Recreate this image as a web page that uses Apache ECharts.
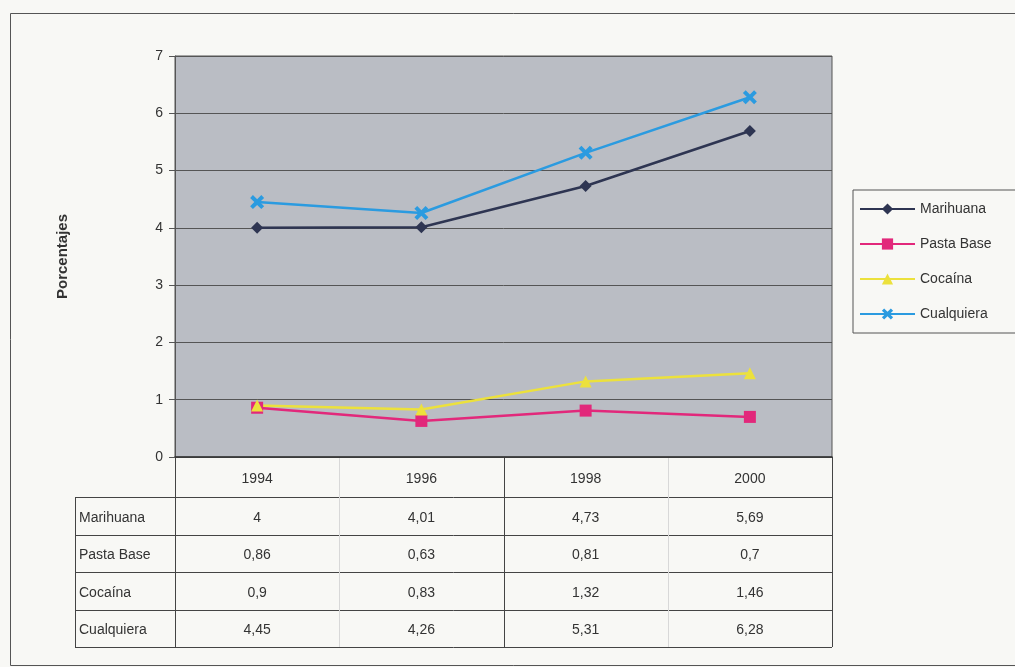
<!DOCTYPE html>
<html>
<head>
<meta charset="utf-8">
<title>Porcentajes 1994-2000</title>
<script src="https://cdn.jsdelivr.net/npm/echarts@6/dist/echarts.min.js"></script>
<style>
  html, body { margin: 0; padding: 0; background: #f8f8f5; }
  #chart { width: 1015px; height: 667px; }
</style>
</head>
<body>
<div id="chart"></div>
<script>
// datos de la tabla
const years = ['1994', '1996', '1998', '2000']
const seriesNames = ['Marihuana', 'Pasta Base', 'Cocaína', 'Cualquiera']
const marihuana = [4, 4.01, 4.73, 5.69]
const pastaBase = [0.86, 0.63, 0.81, 0.7]
const cocaina = [0.9, 0.83, 1.32, 1.46]
const cualquiera = [4.45, 4.26, 5.31, 6.28]
const allValues = [marihuana, pastaBase, cocaina, cualquiera]

const colors = ['#2e3552', '#e2287b', '#ece13c', '#2b9be0']
const symbols = [
  'diamond',
  'rect',
  'triangle',
  'path://M0,2L2,0L5,3L8,0L10,2L7,5L10,8L8,10L5,7L2,10L0,8L3,5Z'
]

// layout de la grilla y tabla
const gridLeft = 175
const gridTop = 56
const gridRight = 832
const gridBottom = 457
const headerH = 40
const rowH = 37.5
const tableLeft = 75
const tableBottom = gridBottom + headerH + rowH * seriesNames.length

const fmt = v => String(v).replace('.', ',')

const chart = echarts.init(document.getElementById('chart'))

const lineColor = '#444'
const graphics = []
// marco exterior
graphics.push({
  type: 'rect',
  shape: { x: 10.5, y: 13.5, width: 1020, height: 652 },
  style: { fill: null, stroke: '#555', lineWidth: 1 },
  silent: true
})
// lineas horizontales de la tabla
for (let i = 0; i <= seriesNames.length; i++) {
  const y = Math.round(gridBottom + headerH + rowH * i) + 0.5
  graphics.push({
    type: 'line',
    shape: { x1: tableLeft, y1: y, x2: gridRight, y2: y },
    style: { stroke: lineColor, lineWidth: 1 },
    silent: true
  })
}
// lineas verticales de la tabla
const colW = (gridRight - gridLeft) / years.length
graphics.push({
  type: 'line',
  shape: { x1: tableLeft + 0.5, y1: gridBottom + headerH, x2: tableLeft + 0.5, y2: tableBottom },
  style: { stroke: lineColor, lineWidth: 1 },
  silent: true
})
for (let j = 0; j <= years.length; j++) {
  const x = Math.round(gridLeft + colW * j) + 0.5
  const strong = j === 0 || j === 2 || j === years.length
  graphics.push({
    type: 'line',
    shape: { x1: x, y1: gridBottom, x2: x, y2: tableBottom },
    style: { stroke: strong ? lineColor : '#d8d8d8', lineWidth: 1 },
    silent: true
  })
}
// nombres de las filas
seriesNames.forEach((name, i) => {
  graphics.push({
    type: 'text',
    x: tableLeft + 4,
    y: gridBottom + headerH + rowH * i + rowH / 2 + 2,
    style: {
      text: name,
      fill: '#333',
      font: '14px "Liberation Sans", Arial, sans-serif',
      verticalAlign: 'middle'
    },
    silent: true
  })
})

const option = {
  backgroundColor: '#f8f8f5',
  textStyle: { fontFamily: '"Liberation Sans", Arial, sans-serif' },
  color: colors,
  animation: false,
  grid: {
    left: gridLeft,
    top: gridTop,
    width: gridRight - gridLeft,
    height: gridBottom - gridTop,
    show: true,
    backgroundColor: '#babdc4',
    borderColor: '#555',
    borderWidth: 1
  },
  legend: {
    orient: 'vertical',
    left: 853,
    top: 190,
    padding: [12, 60, 12, 6],
    itemGap: 21,
    itemWidth: 55,
    itemHeight: 14,
    borderColor: '#555',
    borderWidth: 1,
    backgroundColor: '#f8f8f5',
    textStyle: { fontSize: 14, color: '#333' },
    data: seriesNames
  },
  xAxis: {
    type: 'category',
    data: years,
    boundaryGap: true,
    axisLine: { lineStyle: { color: '#333', width: 1.5 } },
    axisTick: { show: false },
    axisLabel: {
      interval: 0,
      margin: 2,
      formatter: (val, idx) => {
        const lines = ['{h|' + val + '}']
        allValues.forEach(arr => lines.push('{v|' + fmt(arr[idx]) + '}'))
        return lines.join('\n')
      },
      rich: {
        h: { fontSize: 14, color: '#333', lineHeight: headerH, align: 'center' },
        v: { fontSize: 14, color: '#333', lineHeight: rowH, align: 'center' }
      }
    }
  },
  yAxis: {
    type: 'value',
    min: 0,
    max: 7,
    interval: 1,
    name: 'Porcentajes',
    nameLocation: 'middle',
    nameGap: 105,
    nameRotate: 90,
    nameTextStyle: { fontSize: 15, fontWeight: 'bold', color: '#333' },
    axisLine: { show: true, lineStyle: { color: '#555' } },
    axisTick: { show: true, length: 6, lineStyle: { color: '#555' } },
    axisLabel: { fontSize: 14, color: '#333', margin: 12 },
    splitLine: { lineStyle: { color: '#555', width: 1 } }
  },
  series: allValues.map((arr, i) => ({
    name: seriesNames[i],
    type: 'line',
    data: arr,
    symbol: symbols[i],
    symbolSize: i === 3 ? 14 : 12,
    lineStyle: { width: 2.5, color: colors[i] },
    itemStyle: { color: colors[i] }
  })),
  graphic: graphics
}

chart.setOption(option)
</script>
</body>
</html>
